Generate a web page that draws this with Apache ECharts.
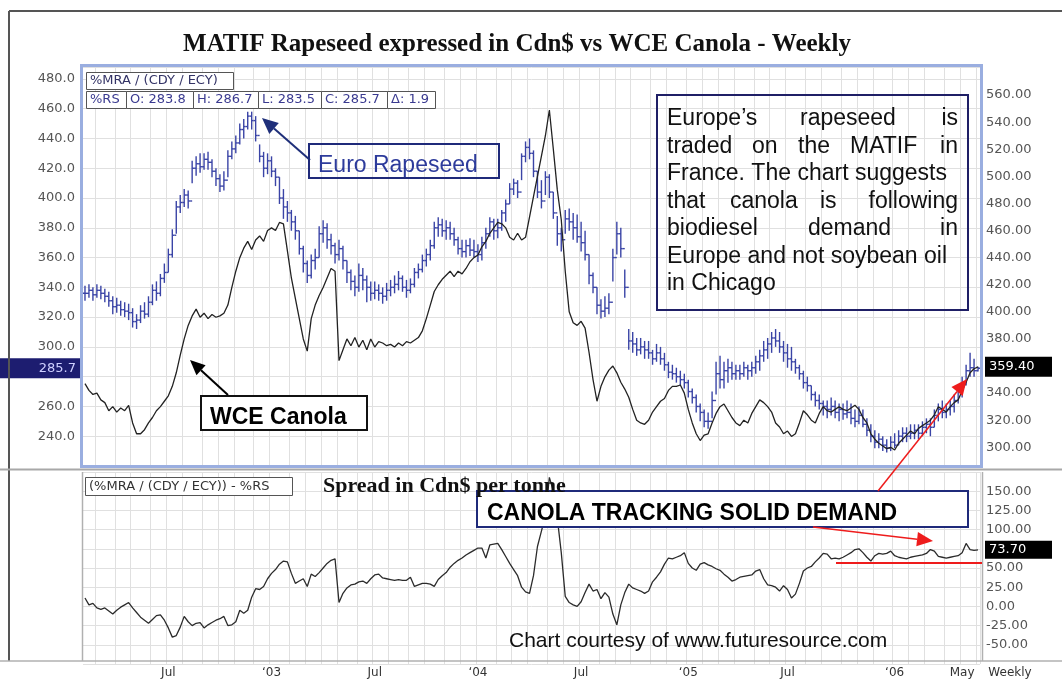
<!DOCTYPE html>
<html>
<head>
<meta charset="utf-8">
<title>MATIF Rapeseed vs WCE Canola - Weekly</title>
<script src="https://cdn.jsdelivr.net/npm/echarts@6/dist/echarts.min.js"></script>
<style>
html, body { margin: 0; padding: 0; background: #fff; }
#e_chart_1 { width: 1062px; height: 687px; }
</style>
</head>
<body>
<div id="e_chart_1"></div>
<script>
/*****Data start*****/
// weekly bars, first week ending 2002-02-08
var firstWeek = Date.UTC(2002, 1, 8);

// WCE Canola, Cdn$ (right scale)
var canola = [
	347,342,339,340,335,333,327,330,326,329,327,331,318,310,310,313,
	318,322,327,330,334,338,345,355,368,380,390,397,402,396,399,395,398,396,397,399,
	405,418,430,440,447,452,446,453,456,452,460,462,460,466,465,445,425,410,395,380,371,
	395,405,412,418,425,432,430,364,372,380,375,381,374,379,372,380,374,378,377,375,
	376,374,377,375,378,377,379,381,386,395,405,415,420,424,427,430,426,430,428,432,437,440,442,448,452,458,462,466,
	465,462,455,453,458,453,455,470,485,500,515,530,549,520,490,468,430,400,392,390,393,388,370,350,334,345,352,357,
	360,355,348,343,337,328,320,318,317,320,326,330,334,336,342,345,345,346,340,328,318,310,305,309,310,
	318,325,330,332,327,322,318,316,320,318,325,330,335,333,330,326,318,315,310,312,308,310,318,327,324,320,318,325,330,327,326,328,330,328,
	327,329,331,328,322,318,310,306,303,301,299,300,298,303,306,309,312,310,314,316,318,320,324,330,328,326,330,333,335,342,348,355,358,359.4
];

// MATIF rapeseed in Cdn$ (left scale): high / low / close
var rsHigh = [
	341,342,340,342,341,339,337,334,333,331,330,329,326,322,328,330,
	334,342,344,349,356,366,379,398,402,406,405,425,428,430,430,431,426,420,416,418,
	432,438,442,450,453,458,458,455,436,431,430,428,420,414,406,398,392,388,378,368,358,
	362,366,381,385,383,376,370,372,368,358,352,348,356,353,348,344,344,342,340,343,
	345,348,351,348,345,346,353,356,362,366,372,384,387,386,385,384,380,374,372,372,373,372,369,374,380,387,386,386,
	392,399,410,413,412,430,438,440,432,418,412,418,416,404,388,380,392,393,390,389,384,378,362,350,340,332,334,336,
	366,384,380,352,312,310,306,306,304,304,298,302,300,296,290,288,286,284,282,278,272,268,262,258,256,
	270,290,294,290,292,290,288,288,290,288,290,294,298,304,306,310,312,310,304,302,300,292,288,284,280,274,270,268,264,264,266,264,262,262,
	264,262,258,260,258,252,248,244,242,240,238,240,242,244,246,246,248,248,248,250,252,252,258,262,264,262,264,268,274,280,288,296,292,286.7
];
var rsLow = [
	331,333,331,333,332,330,327,322,323,321,320,318,313,312,316,319,
	320,328,331,334,343,350,360,376,390,394,393,410,415,417,419,419,414,408,404,405,
	414,426,430,436,440,446,446,438,424,414,416,414,408,396,386,384,378,372,362,350,343,
	346,352,360,370,366,362,356,358,352,343,338,334,337,338,330,331,332,331,329,331,
	334,336,338,337,333,336,340,346,350,354,358,366,374,374,372,372,368,362,360,360,361,360,357,358,366,374,372,373,
	378,384,396,402,400,412,424,426,414,400,393,402,400,386,368,364,376,378,372,370,364,358,342,336,322,319,320,322,
	344,362,360,333,298,296,294,295,292,292,288,290,288,284,279,278,276,274,272,266,262,256,250,246,245,
	252,268,272,272,276,278,278,278,280,278,280,282,284,290,292,296,300,296,290,286,284,282,278,272,270,264,260,258,254,252,254,252,250,251,
	252,248,246,248,246,240,236,232,232,230,229,230,232,234,236,236,238,238,238,240,242,240,246,250,252,252,254,256,262,266,274,280,280,283.5
];
var rsClose = [
	336,338,335,338,336,334,331,327,328,325,324,323,317,318,324,322,
	330,338,336,346,350,362,375,394,397,402,398,420,423,421,426,424,418,413,408,412,
	428,433,437,446,448,455,452,442,428,420,425,418,414,400,394,390,384,378,366,356,348,
	358,360,376,380,372,368,362,366,358,350,344,340,348,345,340,336,338,336,334,338,
	340,342,346,340,338,342,350,352,358,362,368,380,382,378,380,376,372,366,364,368,365,364,362,370,376,384,378,380,
	390,396,406,410,404,428,434,430,418,404,398,414,404,390,376,372,386,384,380,374,370,362,348,340,328,324,326,330,
	360,376,366,340,304,302,298,300,298,296,292,296,292,288,283,282,280,278,276,270,266,260,256,250,250,
	264,282,278,284,286,282,284,282,286,284,286,290,294,298,302,306,304,300,296,292,290,286,282,276,274,268,264,262,260,258,260,256,258,255,
	256,252,250,254,248,244,240,236,238,234,232,236,234,240,242,240,242,244,242,246,248,246,254,258,256,258,260,264,270,276,284,286,284,285.7
];

// spread in Cdn$ per tonne (bottom panel)
var spread = [
	11,2,4,-2,-4,-2,-6,-10,-5,-1,2,5,-2,-8,-14,-18,
	-22,-17,-12,-11,-18,-28,-40,-38,-27,-13,-20,-25,-22,-21,-28,-24,-21,-18,-16,-13,
	-25,-24,-20,-5,-9,-5,12,23,22,26,36,43,48,55,59,58,43,30,33,36,26,
	42,39,44,50,56,60,62,5,17,24,28,29,32,33,30,36,41,42,37,36,
	35,34,35,34,34,38,26,28,30,30,29,26,35,40,44,51,56,60,63,67,70,73,76,76,63,80,81,82,
	74,65,56,48,40,25,19,17,40,78,98,118,168,150,115,70,13,5,2,0,6,18,29,20,22,10,18,12,
	-10,-24,2,18,29,24,22,20,17,20,32,38,45,55,63,62,64,66,70,56,50,47,55,57,54,
	52,49,47,42,38,33,35,38,39,40,41,46,48,36,28,27,25,20,27,22,11,16,30,46,50,52,58,63,69,68,62,63,62,64,
	67,70,74,75,70,64,59,66,69,68,69,72,66,64,63,62,64,65,66,67,69,74,72,65,64,63,64,65,66,70,82,74,73,73.7
];

var rsLast = { O: 283.8, H: 286.7, L: 283.5, C: 285.7, D: 1.9 };
var canolaLast = 359.40;
var spreadLast = 73.70;
/*****Data end*****/

if (rsHigh.length !== canola.length || rsLow.length !== canola.length || rsClose.length !== canola.length || spread.length !== canola.length) {
	throw new Error('length mismatch ' + [canola.length, rsHigh.length, rsLow.length, rsClose.length, spread.length].join(','));
}

var weeks = [];
for (var i = 0; i < canola.length; i++) {
	weeks.push(new Date(firstWeek + i * 7 * 86400000).toISOString().slice(0, 10));
}
function monthOf(i) { return +weeks[i].slice(5, 7); }
function newMonth(i) { return i > 0 && monthOf(i) !== monthOf(i - 1); }
function showLabel(i) {
	if (!newMonth(i)) return false;
	var m = monthOf(i);
	return m === 1 || m === 7 || (m === 5 && weeks[i].slice(0, 4) === '2006');
}

// open = previous close
var ohlc = rsClose.map(function (c, i) {
	return [i, i > 0 ? rsClose[i - 1] : c, rsHigh[i], rsLow[i], c];
});

var BAR_BLUE = '#3a44a6';
var GRID_GREY = '#e0e0e0';
var AXIS_FONT = 'DejaVu Sans';

function renderOHLC(params, api) {
	var x = api.value(0);
	var o = api.coord([x, api.value(1)]);
	var h = api.coord([x, api.value(2)]);
	var l = api.coord([x, api.value(3)]);
	var c = api.coord([x, api.value(4)]);
	var st = { stroke: BAR_BLUE, lineWidth: 1.4 };
	return {
		type: 'group',
		children: [
			{ type: 'line', shape: { x1: h[0], y1: h[1], x2: l[0], y2: l[1] }, style: st },
			{ type: 'line', shape: { x1: o[0] - 2, y1: o[1], x2: o[0], y2: o[1] }, style: st },
			{ type: 'line', shape: { x1: c[0], y1: c[1], x2: c[0] + 2, y2: c[1] }, style: st }
		]
	};
}

var eChart_1 = echarts.init(document.getElementById('e_chart_1'));

var hiddenX = function (gi) {
	return {
		type: 'category', gridIndex: gi, data: weeks, boundaryGap: true,
		axisLine: { show: false }, axisTick: { show: false }, axisLabel: { show: false },
		splitLine: { show: gi !== 2, interval: function (i) { return newMonth(i); }, lineStyle: { color: GRID_GREY } }
	};
};

var option1 = {
	animation: false,
	backgroundColor: '#fff',
	grid: [
		{ left: 83, right: 82, top: 67, bottom: 221 },
		{ left: 83, right: 82, top: 472, bottom: 23 },
		{ left: 83, right: 82, top: 68, bottom: 212.6 }
	],
	xAxis: [
		hiddenX(0),
		{
			type: 'category', gridIndex: 1, data: weeks, boundaryGap: true,
			axisLine: { show: false }, axisTick: { show: false },
			splitLine: { show: true, interval: function (i) { return newMonth(i); }, lineStyle: { color: GRID_GREY } },
			axisLabel: {
				interval: function (i) { return showLabel(i); },
				formatter: function (v) {
					var m = +v.slice(5, 7);
					if (m === 1) return '\u2018' + v.slice(2, 4);
					if (m === 7) return 'Jul';
					return 'May';
				},
				color: '#333', fontFamily: AXIS_FONT, fontSize: 12, margin: 3
			}
		},
		hiddenX(2)
	],
	yAxis: [
		{
			type: 'value', gridIndex: 0, position: 'left', min: 220, max: 488, interval: 20,
			axisLine: { show: false }, axisTick: { show: false },
			axisLabel: { showMinLabel: false, showMaxLabel: false, color: '#555', fontFamily: AXIS_FONT, fontSize: 13, margin: 8,
				// 280 sits under the last-value tag
				formatter: function (v) { return v === 280 ? '' : v.toFixed(1); } },
			splitLine: { lineStyle: { color: GRID_GREY } }
		},
		{
			type: 'value', gridIndex: 2, position: 'right', min: 280, max: 580, interval: 20,
			axisLine: { show: false }, axisTick: { show: false },
			axisLabel: { showMinLabel: false, showMaxLabel: false, color: '#555', fontFamily: AXIS_FONT, fontSize: 13, margin: 6,
				formatter: function (v) { return v === 360 ? '' : v.toFixed(2); } },
			splitLine: { show: false }
		},
		{
			type: 'value', gridIndex: 1, position: 'right', min: -75, max: 175, interval: 25,
			axisLine: { show: false }, axisTick: { show: false },
			axisLabel: { showMinLabel: false, showMaxLabel: false, color: '#555', fontFamily: AXIS_FONT, fontSize: 13, margin: 6,
				formatter: function (v) { return v === 75 ? '' : v.toFixed(2); } },
			splitLine: { lineStyle: { color: GRID_GREY } }
		}
	],
	series: [
		{
			name: 'Euro Rapeseed', type: 'custom', xAxisIndex: 0, yAxisIndex: 0,
			renderItem: renderOHLC, encode: { x: 0, y: [1, 2, 3, 4] }, data: ohlc, clip: true
		},
		{
			name: 'WCE Canola', type: 'line', xAxisIndex: 2, yAxisIndex: 1,
			data: canola, symbol: 'none', lineStyle: { color: '#222', width: 1.3 }
		},
		{
			name: 'Spread', type: 'line', xAxisIndex: 1, yAxisIndex: 2,
			data: spread, symbol: 'none', clip: true, lineStyle: { color: '#2b2b2b', width: 1.3 }
		}
	]
};
eChart_1.setOption(option1);

/*****Annotations start*****/
function txt(text, x, y, font, fill, align) {
	return { type: 'text', z: 100, style: { text: text, x: x, y: y, font: font, fill: fill,
		align: align || 'left', textAlign: align || 'left', verticalAlign: 'middle', textVerticalAlign: 'middle' } };
}
function box(x, y, w, h, stroke, lw, fill) {
	return { type: 'rect', z: 90, shape: { x: x, y: y, width: w, height: h },
		style: { fill: fill || 'none', stroke: stroke, lineWidth: lw } };
}
function line(x1, y1, x2, y2, color, lw) {
	return { type: 'line', z: 95, shape: { x1: x1, y1: y1, x2: x2, y2: y2 }, style: { stroke: color, lineWidth: lw } };
}
function arrow(x1, y1, x2, y2, color, lw, head) {
	var a = Math.atan2(y2 - y1, x2 - x1), L = head, W = head * 0.45;
	var bx = x2 - L * Math.cos(a), by = y2 - L * Math.sin(a);
	return [
		line(x1, y1, bx, by, color, lw),
		{ type: 'polygon', z: 96, shape: { points: [[x2, y2],
			[bx + W * Math.sin(a), by - W * Math.cos(a)], [bx - W * Math.sin(a), by + W * Math.cos(a)]] },
			style: { fill: color } }
	];
}

var yRs = eChart_1.convertToPixel({ yAxisIndex: 0 }, rsLast.C);
var yCan = eChart_1.convertToPixel({ yAxisIndex: 1 }, canolaLast);
var ySp = eChart_1.convertToPixel({ yAxisIndex: 2 }, spreadLast);

var legendFont = '13px "DejaVu Sans"';
var legendColor = '#3a3a90';
var bodyFont = '23px "Liberation Sans"';
var g = [];

// frame and panel borders
g.push(line(9, 11, 1062, 11, '#555', 2));
g.push(line(9, 11, 9, 661, '#555', 2));
g.push(line(0, 469.5, 1062, 469.5, '#a8a8a8', 2));
g.push(line(0, 661, 1062, 661, '#b0b0b0', 1.5));
g.push(line(82.5, 472, 82.5, 661, '#b0b0b0', 1.5));
g.push(line(982.5, 472, 982.5, 661, '#b0b0b0', 1.5));
g.push(box(81.5, 65.5, 900, 401, '#9aaee0', 3));

// titles
g.push(txt('MATIF Rapeseed expressed in Cdn$ vs WCE Canola - Weekly', 517, 45, 'bold 25px "Liberation Serif"', '#111', 'center'));
g.push(txt('Spread in Cdn$ per tonne', 323, 486, 'bold 22px "Liberation Serif"', '#111'));

// legend boxes
g.push(box(86.5, 72.5, 147, 17, '#555', 1, '#fff'));
g.push(txt('%MRA / (CDY / ECY)', 90, 81, legendFont, '#333366'));
var cells = [['%RS', 86, 40], ['O: ' + rsLast.O.toFixed(1), 126, 67], ['H: ' + rsLast.H.toFixed(1), 193, 65],
	['L: ' + rsLast.L.toFixed(1), 258, 63], ['C: ' + rsLast.C.toFixed(1), 321, 66], ['\u0394: ' + rsLast.D.toFixed(1), 387, 48]];
cells.forEach(function (c) {
	g.push(box(c[1] + 0.5, 91.5, c[2], 17, '#555', 1, '#fff'));
	g.push(txt(c[0], c[1] + 4, 100, legendFont, legendColor));
});
g.push(box(85.5, 477.5, 207, 18, '#555', 1, '#fff'));
g.push(txt('(%MRA / (CDY / ECY)) - %RS', 89, 487, legendFont, '#333'));

// last value tags
g.push({ type: 'rect', z: 90, shape: { x: 0, y: yRs - 10, width: 80, height: 20 }, style: { fill: '#1d1d70' } });
g.push(txt(rsLast.C.toFixed(1), 76, yRs, '13px "DejaVu Sans"', '#cfd0ff', 'right'));
g.push({ type: 'rect', z: 90, shape: { x: 985, y: yCan - 10, width: 67, height: 20 }, style: { fill: '#000' } });
g.push(txt(canolaLast.toFixed(2), 989, yCan, '13px "DejaVu Sans"', '#fff'));
g.push({ type: 'rect', z: 90, shape: { x: 985, y: ySp - 9, width: 67, height: 18 }, style: { fill: '#000' } });
g.push(txt(spreadLast.toFixed(2), 989, ySp, '13px "DejaVu Sans"', '#fff'));
g.push(txt('Weekly', 1010, 673, '12px "DejaVu Sans"', '#333', 'center'));

// Euro Rapeseed label
g.push(box(309, 144, 190, 34, '#1f2a7a', 2));
g.push(txt('Euro Rapeseed', 318, 166, bodyFont, '#2d3b9b'));
g = g.concat(arrow(310, 160, 262, 118, '#1f2f7a', 2, 16));

// WCE Canola label
g.push(box(201, 396, 166, 34, '#111', 2, '#fff'));
g.push(txt('WCE Canola', 210, 418, 'bold 23px "Liberation Sans"', '#000'));
g = g.concat(arrow(228, 395, 190, 360, '#000', 2, 15));

// comment box
g.push(box(657, 95, 311, 215, '#1f1f66', 2));
var words = [
	[119, [['Europe\u2019s', 667, 'left'], ['rapeseed', 800, 'left'], ['is', 958, 'right']]],
	[147, [['traded', 667, 'left'], ['on', 752, 'left'], ['the', 798, 'left'], ['MATIF', 850, 'left'], ['in', 958, 'right']]],
	[174, [['France. The chart suggests', 667, 'left']]],
	[202, [['that', 667, 'left'], ['canola', 730, 'left'], ['is', 820, 'left'], ['following', 958, 'right']]],
	[229, [['biodiesel', 667, 'left'], ['demand', 808, 'left'], ['in', 958, 'right']]],
	[257, [['Europe and not soybean oil', 667, 'left']]],
	[284, [['in Chicago', 667, 'left']]]
];
words.forEach(function (row) {
	row[1].forEach(function (w) { g.push(txt(w[0], w[1], row[0], bodyFont, '#111', w[2])); });
});

// canola tracking note
g.push(box(477, 491, 491, 36, '#1f2a7a', 2, '#fff'));
g.push(txt('CANOLA TRACKING SOLID DEMAND', 487, 514, 'bold 23px "Liberation Sans"', '#000'));
g = g.concat(arrow(878, 491, 967, 379, '#ee1c1c', 1.5, 16));
g = g.concat(arrow(813, 527, 933, 541, '#ee1c1c', 1.5, 16));
g.push(line(836, 563, 982, 563, '#ee1c1c', 2));

g.push(txt('Chart courtesy of www.futuresource.com', 509, 641, '21px "Liberation Sans"', '#111'));

eChart_1.setOption({ graphic: g });
/*****Annotations end*****/
</script>
</body>
</html>
